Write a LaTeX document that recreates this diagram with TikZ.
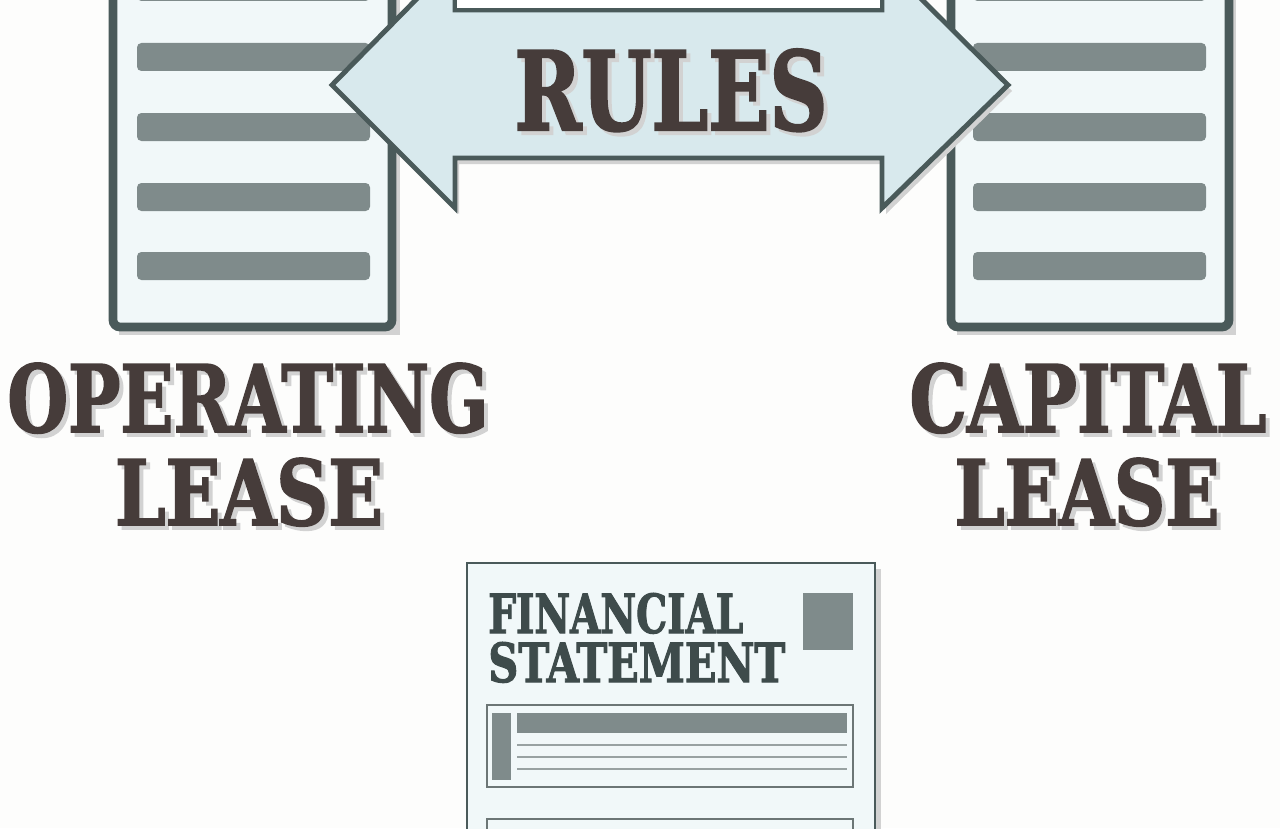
\documentclass[tikz,border=0pt]{standalone}
\usepackage{fontspec}
\usepackage{graphicx}
\newfontfamily\slabfont{DejaVu Serif Condensed}[BoldFont={DejaVu Serif Condensed Bold},BoldFeatures={FakeBold=2}]
\definecolor{bgcol}{HTML}{FDFDFC}
\definecolor{docfill}{HTML}{F1F8F9}
\definecolor{docline}{HTML}{4A5A5A}
\definecolor{barcol}{HTML}{7F8B8B}
\definecolor{arrowfill}{HTML}{D8E9ED}
\definecolor{titlecol}{HTML}{463C3A}
\definecolor{fscol}{HTML}{3E4B4B}
\definecolor{shadowcol}{HTML}{D2D2D2}
\newcommand\slab[3]{\resizebox{#1}{#2}{\slabfont\bfseries #3}}
% title with its soft shadow in one box
\newcommand\shadowslab[3]{\rlap{\kern0.08cm\raisebox{-0.08cm}{\textcolor{shadowcol}{\slab{#1}{#2}{#3}}}}\slab{#1}{#2}{#3}}
\tikzset{
  doc/.style={draw=docline,fill=docfill,line width=5pt,rounded corners=4pt},
  bar/.style={fill=barcol,rounded corners=2.5pt},
  title/.style={text=titlecol,inner sep=0pt,anchor=base},
}
\begin{document}
\begin{tikzpicture}[x=0.02cm,y=-0.02cm]
\useasboundingbox (0,0) rectangle (1280,828);
\clip (0,0) rectangle (1280,828);
\fill[bgcol] (0,0) rectangle (1280,828);
% lease documents
\fill[shadowcol] (119,-60) rectangle (400,335);
\fill[shadowcol] (957,-60) rectangle (1236,335);
\draw[doc] (113,-60) rectangle (392,327);
\draw[doc] (951,-60) rectangle (1229,327);
\foreach \y in {-13,57,127,197,266} {
  \fill[bar] (137,\y-14) rectangle (370,\y+14);
  \fill[bar] (973,\y-14) rectangle (1206,\y+14);
}
% double arrow
\fill[shadowcol,shift={(4,6)}] (332,85) -- (455,-40) -- (455,10) -- (882,10) -- (882,-40) -- (1008,85)
  -- (882,208) -- (882,158) -- (455,158) -- (455,208) -- cycle;
\draw[docline,fill=arrowfill,line width=2.8pt] (332,85) -- (455,-40) -- (455,10) -- (882,10) -- (882,-40)
  -- (1008,85) -- (882,208) -- (882,158) -- (455,158) -- (455,208) -- cycle;
\draw[docline,fill=white,line width=2.8pt] (455,-40) rectangle (882,10);
\node[title] (rules) at (671,130) {\shadowslab{6.26cm}{1.62cm}{RULES}};
% lease titles
\node[title] (operating) at (248,432) {\shadowslab{9.62cm}{1.38cm}{OPERATING}};
\node[title] (oplease) at (249,525) {\shadowslab{5.36cm}{1.34cm}{LEASE}};
\node[title] (capital) at (1088,432) {\shadowslab{7.14cm}{1.38cm}{CAPITAL}};
\node[title] (caplease) at (1087,525) {\shadowslab{5.3cm}{1.34cm}{LEASE}};
% financial statement
\fill[shadowcol] (473,569) rectangle (881,880);
\draw[docline,fill=docfill,line width=1.5pt] (467,563) rectangle (875,880);
\node[text=fscol,inner sep=0pt,anchor=base west] (fin) at (488,633) {\slab{5.1cm}{0.8cm}{FINANCIAL}};
\node[text=fscol,inner sep=0pt,anchor=base west] (stmt) at (488,682) {\slab{5.94cm}{0.8cm}{STATEMENT}};
\fill[barcol] (803,593) rectangle (853,650);
\draw[barcol!85!black,line width=1pt] (487,705) rectangle (853,787);
\fill[barcol] (492,713) rectangle (511,780);
\fill[barcol] (517,713) rectangle (847,733);
\foreach \y in {745,757,769}
  \draw[barcol!80,line width=1.6pt] (517,\y) -- (847,\y);
\draw[barcol!85!black,line width=1pt] (487,819) rectangle (853,900);
\end{tikzpicture}
\end{document}
